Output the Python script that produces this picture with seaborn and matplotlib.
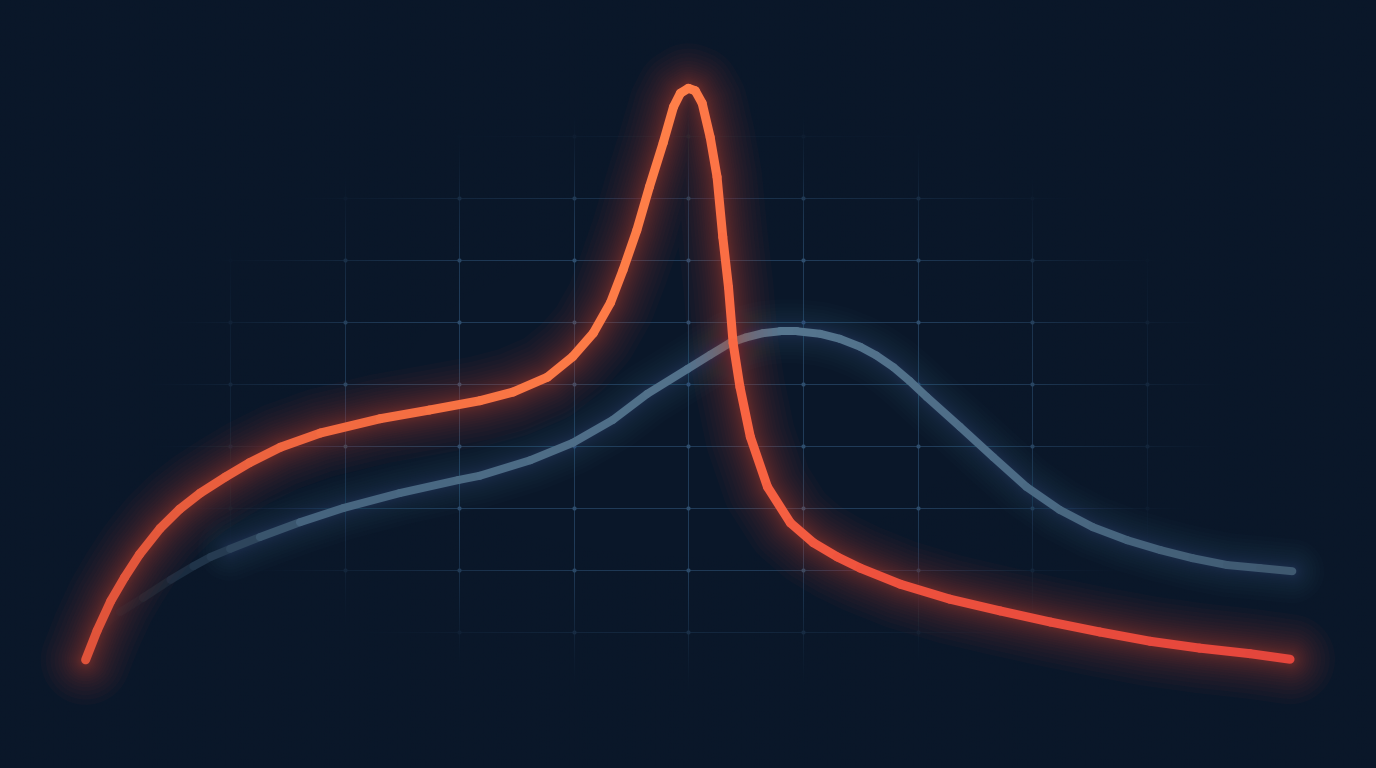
"""
Two glowing response curves over a faded blueprint grid.
"""

import numpy as np
import pandas as pd
import matplotlib
matplotlib.use("Agg")
import matplotlib.pyplot as plt
import matplotlib.colors as mcolors
import seaborn as sns

# -- Data (grid units) ---------------------------------------------------------

SHARP_X = [-0.26, -0.16, -0.04, 0.08, 0.21, 0.39, 0.56, 0.74, 0.96, 1.17, 1.44,
           1.79, 2.31, 2.74, 3.18, 3.47, 3.77, 3.99, 4.17, 4.32, 4.43, 4.55,
           4.66, 4.78, 4.87, 4.93, 5.00, 5.06, 5.12, 5.19, 5.25, 5.30, 5.35,
           5.39, 5.45, 5.54, 5.69, 5.89, 6.09, 6.30, 6.50, 6.85, 7.28, 7.72,
           8.16, 8.59, 9.03, 9.46, 9.90, 10.25]
SHARP_Y = [0.55, 1.02, 1.50, 1.88, 2.25, 2.67, 2.98, 3.24, 3.50, 3.73, 3.98,
           4.21, 4.44, 4.58, 4.73, 4.87, 5.11, 5.44, 5.82, 6.31, 6.84, 7.48,
           8.18, 8.89, 9.47, 9.69, 9.77, 9.73, 9.53, 8.98, 8.34, 7.37, 6.56,
           5.66, 4.95, 4.15, 3.34, 2.76, 2.44, 2.21, 2.03, 1.77, 1.53, 1.34,
           1.16, 1.00, 0.85, 0.74, 0.65, 0.56]

BROAD_X = [-0.09, 0.04, 0.24, 0.48, 0.68, 0.83, 1.00, 1.26, 1.61, 1.99, 2.48,
           2.99, 3.18, 3.62, 3.99, 4.34, 4.64, 4.99, 5.19, 5.36, 5.50, 5.65,
           5.80, 5.95, 6.15, 6.32, 6.50, 6.64, 6.79, 6.93, 7.08, 7.37, 7.66,
           7.95, 8.24, 8.53, 8.83, 9.12, 9.40, 9.70, 9.99, 10.27]
BROAD_Y = [1.11, 1.32, 1.55, 1.84, 2.06, 2.21, 2.34, 2.53, 2.77, 3.00, 3.24,
           3.45, 3.52, 3.77, 4.05, 4.42, 4.84, 5.24, 5.47, 5.66, 5.75, 5.82,
           5.85, 5.85, 5.81, 5.73, 5.60, 5.46, 5.27, 5.05, 4.79, 4.31, 3.82,
           3.34, 2.97, 2.69, 2.48, 2.32, 2.19, 2.08, 2.03, 1.98]

GRID_X = [-1, 0, 1, 2, 3, 4, 5, 6, 7, 8, 9, 10, 11]
GRID_Y = [-1, 0, 1, 2, 3, 4, 5, 6, 7, 8, 9, 10, 11]

# -- Style ---------------------------------------------------------------------

BG = "#0a1729"
GRID_COLOR = "#203b58"
DOT_COLOR = "#2e4d6c"
XLIM = (-1.007, 11.0)
YLIM = (-1.194, 11.194)
PX = 0.72  # points per pixel at dpi 100

SHARP_STOPS = [(-0.26, "#e0523a"), (2.0, "#f26a40"), (4.0, "#fc7a46"),
               (5.0, "#ff8049"), (5.5, "#f86442"), (6.5, "#ee523d"),
               (10.25, "#e4453c")]
BROAD_STOPS = [(-0.09, "#45637d"), (1.6, "#45637d"), (5.9, "#56768f"),
               (8.0, "#4b6a84"), (10.27, "#3e586f")]

sns.set_theme(style="dark", rc={
    "figure.facecolor": BG,
    "axes.facecolor": BG,
    "savefig.facecolor": BG,
})


def stop_colors(xs, stops, fade_to=None):
    """Colour at each segment midpoint, interpolated between stops."""
    sx = [s[0] for s in stops]
    rgb = np.array([mcolors.to_rgb(s[1]) for s in stops])
    xs = np.asarray(xs)
    mids = (xs[:-1] + xs[1:]) / 2
    cols = np.column_stack([np.interp(mids, sx, rgb[:, k]) for k in range(3)])
    if fade_to is not None:
        bg = np.array(mcolors.to_rgb(BG))
        f = np.clip((mids - fade_to[0]) / (fade_to[1] - fade_to[0]), 0, 1)
        f = f ** 1.3
        cols = bg + (cols - bg) * f[:, None]
    return {i: tuple(c) for i, c in enumerate(cols)}


def segment_frame(xs, ys):
    rows = []
    for i in range(len(xs) - 1):
        rows.append((xs[i], ys[i], i))
        rows.append((xs[i + 1], ys[i + 1], i))
    return pd.DataFrame(rows, columns=["x", "y", "seg"])


def draw_glow(ax, xs, ys, color, widest, narrowest, steps, alpha, z):
    # geometric widths: strokes bunch up near the line so the halo falls off softly
    for width in np.geomspace(widest, narrowest, steps):
        sns.lineplot(x=xs, y=ys, ax=ax, color=color, alpha=alpha,
                     linewidth=width * PX, sort=False, estimator=None,
                     solid_capstyle="round", solid_joinstyle="round", zorder=z)


def draw_core(ax, xs, ys, palette, width, z):
    df = segment_frame(xs, ys)
    sns.lineplot(data=df, x="x", y="y", hue="seg", palette=palette, ax=ax,
                 legend=False, sort=False, estimator=None, linewidth=width * PX,
                 solid_capstyle="round", zorder=z)


fig = plt.figure(figsize=(13.76, 7.68), dpi=100)
ax = fig.add_axes([0, 0, 1, 1])
ax.set_facecolor(BG)

# grid + intersection dots
ax.set_xticks(GRID_X)
ax.set_yticks(GRID_Y)
ax.grid(True, color=GRID_COLOR, linewidth=1.0 * PX)
ax.set_axisbelow(True)
gx, gy = np.meshgrid(GRID_X, GRID_Y)
sns.scatterplot(x=gx.ravel(), y=gy.ravel(), ax=ax, s=9, color=DOT_COLOR,
                linewidth=0, zorder=1, legend=False)

# elliptical fade of the grid toward the edges
nx, ny = 400, 240
ex = np.linspace(XLIM[0], XLIM[1], nx)
ey = np.linspace(YLIM[0], YLIM[1], ny)
EX, EY = np.meshgrid(ex, ey)
r = np.sqrt(((EX - 4.99) / 4.9) ** 2 + ((EY - 4.74) / 4.9) ** 2)
mask = np.clip((r - 0.5) / 0.5, 0, 1)
mask = mask * mask * (3 - 2 * mask)
veil = np.zeros((ny, nx, 4))
veil[..., :3] = mcolors.to_rgb(BG)
veil[..., 3] = mask
ax.imshow(veil, extent=[XLIM[0], XLIM[1], YLIM[0], YLIM[1]], origin="lower",
          aspect="auto", interpolation="bilinear", zorder=2)

# broad blue-grey curve (fades in from the left)
start = next(i for i, v in enumerate(BROAD_X) if v >= 1.0)
draw_glow(ax, BROAD_X[start:], BROAD_Y[start:], "#4273a0",
          widest=64, narrowest=10, steps=14, alpha=0.022, z=3)
draw_core(ax, BROAD_X, BROAD_Y, stop_colors(BROAD_X, BROAD_STOPS, (-0.09, 1.7)),
          8, z=4)

# sharp orange-red curve
draw_glow(ax, SHARP_X, SHARP_Y, "#ec4a2d",
          widest=90, narrowest=11, steps=18, alpha=0.028, z=5)
draw_core(ax, SHARP_X, SHARP_Y, stop_colors(SHARP_X, SHARP_STOPS), 9, z=6)

ax.set_xlim(*XLIM)
ax.set_ylim(*YLIM)
ax.set_xlabel("")
ax.set_ylabel("")
ax.tick_params(length=0, labelbottom=False, labelleft=False)
for spine in ax.spines.values():
    spine.set_visible(False)

fig.savefig("out.png", dpi=100, facecolor=BG)
plt.close(fig)
